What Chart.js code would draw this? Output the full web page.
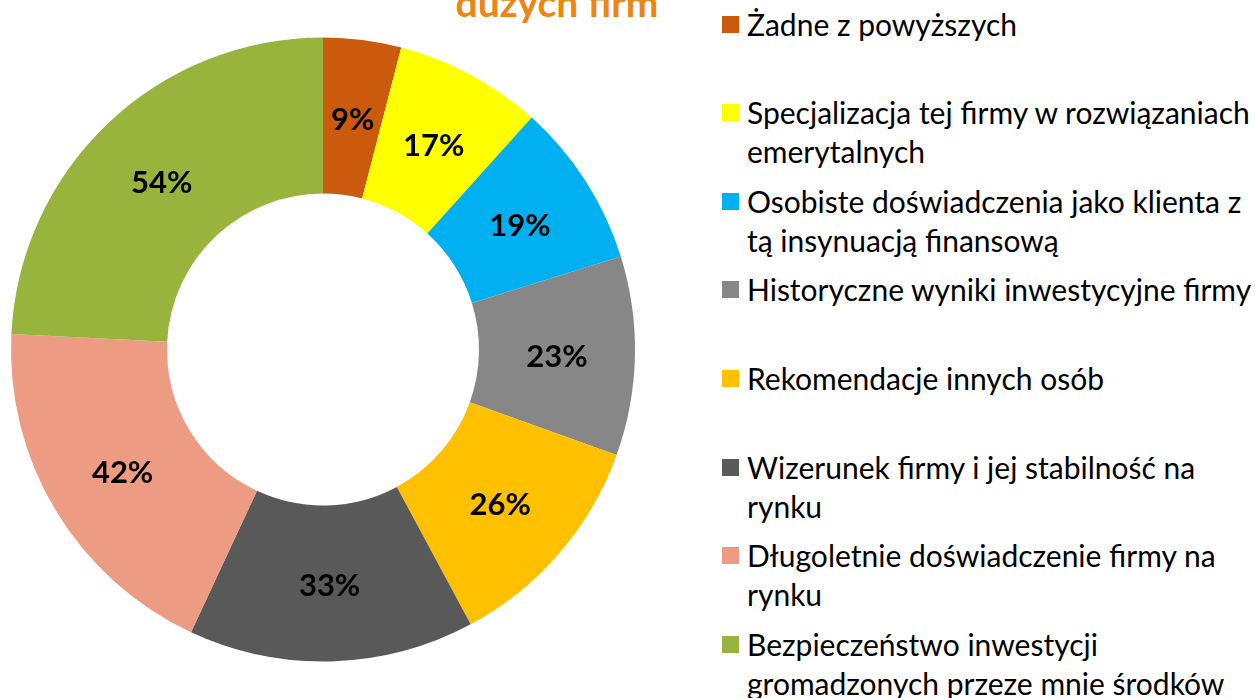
<!DOCTYPE html>
<html>
<head>
<meta charset="utf-8">
<script src="https://cdn.jsdelivr.net/npm/chart.js@4/dist/chart.umd.min.js"></script>
<style>
  html, body { margin: 0; padding: 0; background: #fff; width: 1255px; height: 698px; overflow: hidden; }
  #wrap { position: absolute; left: 0; top: 0; width: 646px; height: 698px; }
  #title { position: absolute; left: 357px; width: 400px; top: -18px; text-align: center;
           font: bold 39px Lato, sans-serif; color: #EF8511; line-height: 40px; white-space: nowrap; }
  #legend { position: absolute; left: 0; top: 0; }
  .item { position: absolute; left: 722px; font: 30px Lato, sans-serif; color: #000; line-height: 39px; white-space: nowrap; }
  .item .box { position: absolute; left: 0; top: 11px; width: 17px; height: 17px; }
  .item .txt { margin-left: 25px; }
</style>
</head>
<body>
<div id="title">dużych firm</div>
<div id="wrap"><canvas id="chart"></canvas></div>
<div id="legend"></div>
<script>
const labels = [
  ['Żadne z powyższych'],
  ['Specjalizacja tej firmy w rozwiązaniach', 'emerytalnych'],
  ['Osobiste doświadczenia jako klienta z', 'tą insynuacją finansową'],
  ['Historyczne wyniki inwestycyjne firmy'],
  ['Rekomendacje innych osób'],
  ['Wizerunek firmy i jej stabilność na', 'rynku'],
  ['Długoletnie doświadczenie firmy na', 'rynku'],
  ['Bezpieczeństwo inwestycji', 'gromadzonych przeze mnie środków']
];
const values = [9, 17, 19, 23, 26, 33, 42, 54];
const colors = ['#CC5A0C', '#FFFF00', '#00B0F0', '#878787', '#FFC000', '#595959', '#EE9B84', '#98B43C'];

const sliceLabels = {
  id: 'sliceLabels',
  afterDatasetsDraw(chart) {
    const ctx = chart.ctx;
    const meta = chart.getDatasetMeta(0);
    ctx.save();
    ctx.font = 'bold 31px Lato, sans-serif';
    ctx.fillStyle = '#000';
    ctx.textAlign = 'center';
    ctx.textBaseline = 'middle';
    meta.data.forEach((arc, i) => {
      const p = arc.tooltipPosition();
      ctx.fillText(values[i] + '%', p.x, p.y + 3);
    });
    ctx.restore();
  }
};

new Chart(document.getElementById('chart'), {
  type: 'doughnut',
  data: {
    labels,
    datasets: [{
      data: values,
      backgroundColor: colors,
      borderWidth: 0
    }]
  },
  options: {
    responsive: true,
    maintainAspectRatio: false,
    animation: false,
    cutout: '50%',
    layout: { padding: { left: 11, right: 11, top: 37, bottom: 36 } },
    plugins: {
      legend: { display: false },
      tooltip: { enabled: false }
    }
  },
  plugins: [sliceLabels]
});

// legend
const legend = document.getElementById('legend');
labels.forEach((l, i) => {
  const div = document.createElement('div');
  div.className = 'item';
  div.style.top = (24 - 19.5 + i * 88.6) + 'px';
  div.innerHTML = `<span class="box" style="background:${colors[i]}"></span><div class="txt">${l.join('<br>')}</div>`;
  legend.appendChild(div);
});
</script>
</body>
</html>
